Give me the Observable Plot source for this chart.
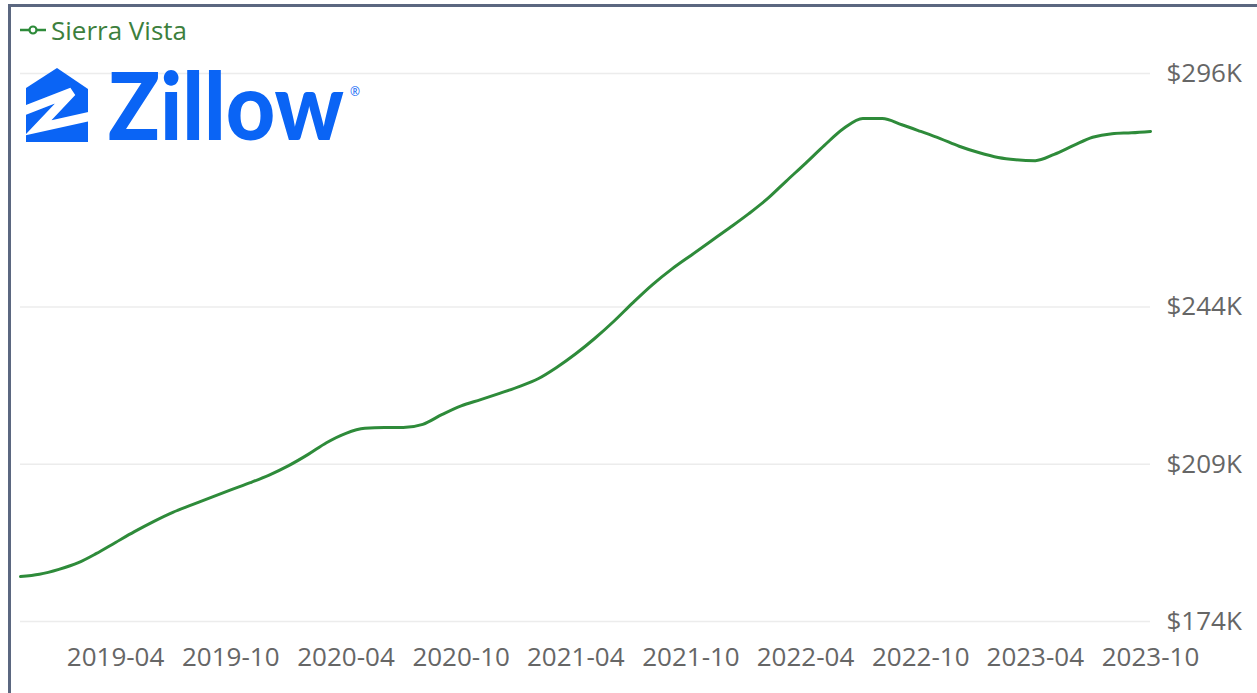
<!DOCTYPE html>
<html>
<head>
<meta charset="utf-8">
<script src="https://cdn.jsdelivr.net/npm/d3@7"></script>
<script src="https://cdn.jsdelivr.net/npm/@observablehq/plot@0.6"></script>
<style>
  html, body { margin: 0; padding: 0; background: #fff; }
  #page { position: relative; width: 1257px; height: 693px; overflow: hidden; background: #fff; }
  #frame { position: absolute; left: 8px; top: 4px; width: 1260px; height: 700px;
           border-top: 3px solid #5b6780; border-left: 3px solid #5b6780; box-sizing: border-box; }
  #chart { position: absolute; left: 0; top: 0; }
  #legend { position: absolute; left: 20px; top: 12px; font-family: "Open Sans", sans-serif;
            font-size: 26px; color: #3d7f3d; display: flex; align-items: center; gap: 5px; }
  #logo { position: absolute; left: 0; top: 0; }
</style>
</head>
<body>
<div id="page">
  <div id="frame"></div>
  <div id="chart"></div>
  <div id="legend">
    <svg width="26" height="12"><line x1="0" y1="6" x2="26" y2="6" stroke="#2e8b3a" stroke-width="2.5"/><circle cx="13" cy="6" r="3.5" fill="#fff" stroke="#2e8b3a" stroke-width="2.2"/></svg>
    <span>Sierra Vista</span>
  </div>
  <svg id="logo" width="400" height="160">
    <polygon points="26,88 57,68 88,89 88,142 26,142" fill="#0a64f5"/>
    <polyline points="18,113 72,92 38,128 96,115" fill="none" stroke="#fff" stroke-width="9" stroke-linejoin="miter"/>
    <text id="zword" x="0" y="0" transform="translate(108,140)" font-family="Lato, 'Open Sans', sans-serif" font-weight="900" font-size="93" fill="#0a64f5">Zillow</text>
    <text x="350" y="96" font-family="'Open Sans', sans-serif" font-size="12" fill="#0a64f5">®</text>
  </svg>
</div>
<script>
const seriesName = "Sierra Vista";
const months = [
  "2018-11","2018-12",
  "2019-01","2019-02","2019-03","2019-04","2019-05","2019-06","2019-07","2019-08","2019-09","2019-10","2019-11","2019-12",
  "2020-01","2020-02","2020-03","2020-04","2020-05","2020-06","2020-07","2020-08","2020-09","2020-10","2020-11","2020-12",
  "2021-01","2021-02","2021-03","2021-04","2021-05","2021-06","2021-07","2021-08","2021-09","2021-10","2021-11","2021-12",
  "2022-01","2022-02","2022-03","2022-04","2022-05","2022-06","2022-07","2022-08","2022-09","2022-10","2022-11","2022-12",
  "2023-01","2023-02","2023-03","2023-04","2023-05","2023-06","2023-07","2023-08","2023-09","2023-10"
];
const values = [
  184.0, 184.5,
  185.6, 187.1, 189.1, 191.6, 194.0, 196.3, 198.3, 200.0, 201.7, 203.3, 204.9, 206.6,
  208.7, 211.2, 213.8, 215.9, 217.0, 217.2, 217.2, 217.9, 220.1, 222.0, 223.4, 224.8,
  226.3, 228.1, 230.5, 233.6, 237.0, 240.9, 245.0, 249.0, 252.5, 255.5, 258.6, 261.6,
  264.8, 268.3, 272.0, 276.0, 280.0, 283.8, 286.0, 286.0, 284.6, 283.1, 281.5, 279.8,
  278.4, 277.3, 276.8, 276.6, 278.0, 280.0, 281.8, 282.6, 282.8, 283.1
];
const xTickLabels = ["2019-04","2019-10","2020-04","2020-10","2021-04","2021-10","2022-04","2022-10","2023-04","2023-10"];
const yTickValues = [174, 209, 244, 296];

// fit the logo word to its width with a horizontal scale
const zw = document.getElementById("zword");
const natural = zw.getComputedTextLength();
if (natural > 0) zw.setAttribute("transform", `translate(108,140) scale(${236 / natural},1)`);

const parse = d3.utcParse("%Y-%m");
const fmt = d3.utcFormat("%Y-%m");
const data = months.map((m, i) => ({date: parse(m), value: values[i] * 1000, series: seriesName}));
const xTicks = xTickLabels.map(parse);
const yTicks = yTickValues.map(v => v * 1000);

const chart = Plot.plot({
  width: 1257,
  height: 693,
  marginLeft: 20,
  marginRight: 107,
  marginTop: 73,
  marginBottom: 72,
  style: {fontFamily: "'Open Sans', sans-serif", fontSize: "26px", color: "#666", background: "transparent"},
  x: {type: "utc", domain: [parse(months[0]), parse(months[months.length - 1])]},
  y: {domain: [174000, 296000]},
  marks: [
    Plot.ruleY(yTicks, {stroke: "#ececec", strokeWidth: 1.5}),
    Plot.axisY(yTicks, {anchor: "right", tickSize: 0, tickPadding: 16, textAnchor: "start", label: null,
      tickFormat: d => "$" + Math.round(d / 1000) + "K", fill: "#666"}),
    Plot.axisX(xTicks, {anchor: "bottom", tickSize: 0, tickPadding: 26, label: null, tickFormat: fmt, fill: "#666"}),
    Plot.line(data, {x: "date", y: "value", curve: "monotone-x", stroke: "#2e8b3a", strokeWidth: 3})
  ]
});
document.getElementById("chart").appendChild(chart);
</script>
</body>
</html>
